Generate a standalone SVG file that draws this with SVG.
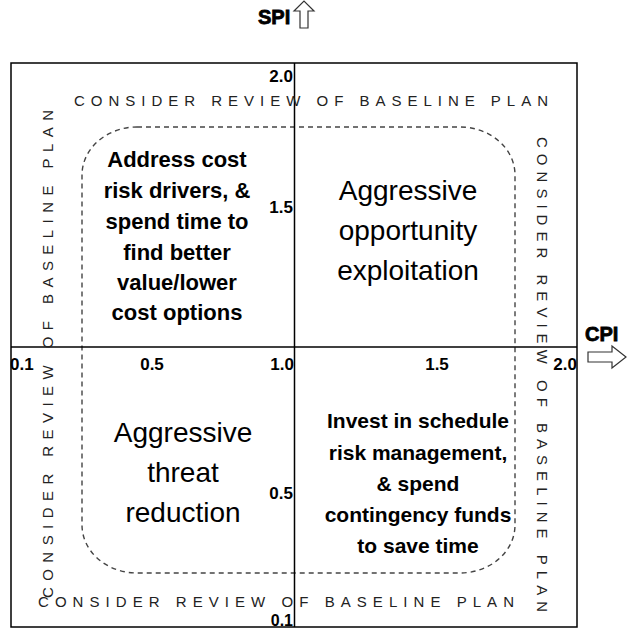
<svg xmlns="http://www.w3.org/2000/svg" width="627" height="630" viewBox="0 0 627 630">
<style>
.frame{fill:none;stroke:#000;stroke-width:1.5}
.axis{stroke:#000;stroke-width:1.5}
.zone{fill:none;stroke:#444;stroke-width:1.4;stroke-dasharray:5 4}
.arrow{fill:#fff;stroke:#333;stroke-width:1.2}
.spaced{font-family:"Liberation Sans",Arial,sans-serif;font-size:15px;fill:#222}
.tick{font-family:"Liberation Sans",Arial,sans-serif;font-size:17px;font-weight:bold;fill:#000}
.axlab{font-family:"Liberation Sans",Arial,sans-serif;font-size:20px;font-weight:bold;fill:#000;stroke:#000;stroke-width:0.8}
.qb{font-family:"Liberation Sans",Arial,sans-serif;font-size:22px;font-weight:bold;fill:#000;text-anchor:middle}
.qr{font-family:"Liberation Sans",Arial,sans-serif;font-size:28px;fill:#000;text-anchor:middle}
</style>
<rect width="627" height="630" fill="#fff"/>
<g id="frame">
<rect class="frame" x="11" y="63" width="566" height="564"/>
<rect class="zone" x="82" y="127" width="433" height="446" rx="55" ry="48"/>
</g>
<g id="connectors">
<line class="axis" x1="294.5" y1="63" x2="294.5" y2="627"/>
<line class="axis" x1="11" y1="347" x2="577" y2="347"/>
</g>
<g id="spi-axis">
<text class="axlab" x="258" y="24">SPI</text>
<path class="arrow" d="M300,28 V11 H294 L304,1 L314,11 H308 V28 Z"/>
</g>
<g id="cpi-axis">
<text class="axlab" x="585" y="341">CPI</text>
<path class="arrow" d="M588,352 H612 V346 L626,357 L612,368 V362 H588 Z"/>
</g>
<g id="ticks">
<text class="tick" x="10" y="370">0.1</text>
<text class="tick" x="152" y="370" text-anchor="middle">0.5</text>
<text class="tick" x="294" y="370" text-anchor="end">1.0</text>
<text class="tick" x="437" y="370" text-anchor="middle">1.5</text>
<text class="tick" x="577" y="370" text-anchor="end">2.0</text>
<text class="tick" x="293" y="82" text-anchor="end">2.0</text>
<text class="tick" x="293" y="213" text-anchor="end">1.5</text>
<text class="tick" x="293" y="499" text-anchor="end">0.5</text>
<text class="tick" x="293" y="626" text-anchor="end" style="font-size:16px">0.1</text>
</g>
<g id="review-notes">
<text class="spaced" x="74" y="106" textLength="474" lengthAdjust="spacing">CONSIDER REVIEW OF BASELINE PLAN</text>
<text class="spaced" x="38" y="607" textLength="476" lengthAdjust="spacing">CONSIDER REVIEW OF BASELINE PLAN</text>
<text class="spaced" transform="translate(53,598) rotate(-90)" x="0" y="0" textLength="488" lengthAdjust="spacing">CONSIDER REVIEW OF BASELINE PLAN</text>
<text class="spaced" transform="translate(537,137) rotate(90)" x="0" y="0" textLength="475" lengthAdjust="spacing">CONSIDER REVIEW OF BASELINE PLAN</text>
</g>
<g id="q-top-left">
<text class="qb" x="177" y="167">Address cost</text>
<text class="qb" x="177" y="198">risk drivers, &amp;</text>
<text class="qb" x="177" y="229">spend time to</text>
<text class="qb" x="177" y="260">find better</text>
<text class="qb" x="177" y="290">value/lower</text>
<text class="qb" x="177" y="320">cost options</text>
</g>
<g id="q-top-right">
<text class="qr" x="408" y="200">Aggressive</text>
<text class="qr" x="408" y="240">opportunity</text>
<text class="qr" x="408" y="280">exploitation</text>
</g>
<g id="q-bottom-left">
<text class="qr" x="183" y="442">Aggressive</text>
<text class="qr" x="183" y="482">threat</text>
<text class="qr" x="183" y="522">reduction</text>
</g>
<g id="q-bottom-right">
<text class="qb" x="418" y="428" style="font-size:21px">Invest in schedule</text>
<text class="qb" x="418" y="460" style="font-size:21px">risk management,</text>
<text class="qb" x="418" y="491" style="font-size:21px">&amp; spend</text>
<text class="qb" x="418" y="522" style="font-size:21px">contingency funds</text>
<text class="qb" x="418" y="553" style="font-size:21px">to save time</text>
</g>
</svg>
